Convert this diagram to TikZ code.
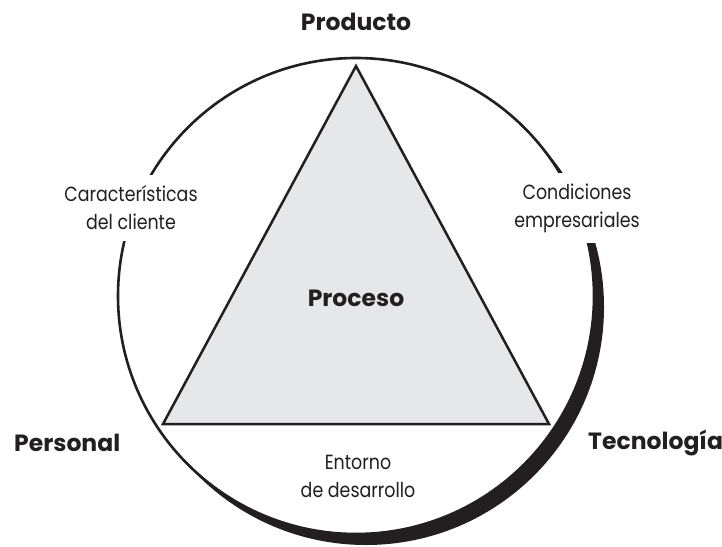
\documentclass[tikz,border=0pt]{standalone}
\usepackage{fontspec}
\setmainfont{Poppins}
\newfontfamily\lblfont{Poppins}[FakeStretch=0.85]
\definecolor{trifill}{HTML}{E6E7E8}
\definecolor{ink}{HTML}{231F20}
\begin{document}
\begin{tikzpicture}[x=1pt,y=-1pt,
  lbl/.style={font=\lblfont\fontsize{20.5}{28}\selectfont, align=center, text=ink},
  big/.style={font=\fontsize{23.5}{26}\selectfont\bfseries, text=ink},
  gapbox/.style={lbl, fill=white, inner xsep=4pt, inner ysep=11pt}]
\useasboundingbox (0,0) rectangle (722,546);
% shadow circle and main circle
\fill[ink] (366,307) circle[radius=238pt];
\draw[ink, line width=2.6pt, fill=white] (356,296) circle[radius=238pt];
% labels that interrupt the circle
\node[gapbox] (cliente) at (131,208) {Características\\del cliente};
\node[gapbox] (cond) at (577,208) {Condiciones\\empresariales};
% triangle
\coordinate (apex) at (356,66);
\coordinate (bl) at (163,424);
\coordinate (br) at (549,424);
\draw[ink, line width=2.5pt, fill=trifill, line join=miter] (apex) -- (bl) -- (br) -- cycle;
% labels
\node[big] (producto) at (356,22) {Producto};
\node[big] (proceso) at (356,298) {Proceso};
\node[big, anchor=west, inner xsep=0pt] (personal) at (14,443) {Personal};
\node[big, anchor=west, inner xsep=0pt] (tecno) at (588,443) {Tecnología};
\node[lbl] (entorno) at (358,476) {Entorno\\de desarrollo};
\end{tikzpicture}
\end{document}
